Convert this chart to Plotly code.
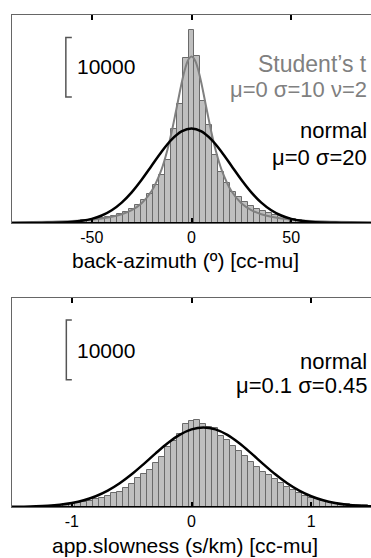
import plotly.graph_objects as go

# ---------------- top panel: back-azimuth (deg) ----------------
baz_centers = [-54, -51, -48, -45, -42, -39, -36, -33, -30, -27, -24, -21, -18, -15, -12, -9, -6, -3,
               0, 3, 6, 9, 12, 15, 18, 21, 24, 27, 30, 33, 36, 39, 42, 45, 48, 51, 54]
baz_counts = [450, 530, 610, 760, 950, 1170, 1500, 1890, 2330, 3000, 3850, 4840, 6340, 8000, 10600, 15800, 20000, 27800,
              32450, 28100, 20500, 16500, 11400, 8600, 6700, 5300, 4300, 3500, 2900, 2400, 2000, 1650, 1350, 1100, 900, 720, 560]
baz_bin_width = 3

# Student's t curve
baz_t_x = [-90, -80, -70, -60, -50, -45, -40, -35, -30, -25, -20, -15, -12, -10, -8, -6, -5, -4, -3, -2, -1,
           0, 1, 2, 3, 4, 5, 6, 8, 10, 12, 15, 20, 25, 30, 35, 40, 45, 50, 60, 70, 80, 90]
baz_t_y = [105, 148, 217, 338, 564, 755, 1037, 1470, 2170, 3340, 5390, 9040, 12410, 15240, 18460, 21840, 23470, 24950, 26210, 27180, 27790,
           28000, 27790, 27180, 26210, 24950, 23470, 21840, 18460, 15240, 12410, 9040, 5390, 3340, 2170, 1470, 1037, 755, 564, 338, 217, 148, 105]

# normal curve
baz_n_x = [-90, -85, -80, -75, -70, -65, -60, -55, -50, -45, -40, -35, -30, -25, -20, -15, -10, -5,
           0, 5, 10, 15, 20, 25, 30, 35, 40, 45, 50, 55, 60, 65, 70, 75, 80, 85, 90]
baz_n_y = [1, 2, 5, 14, 35, 81, 177, 363, 698, 1265, 2150, 3440, 5160, 7280, 9640, 12000, 14030, 15410,
           15900, 15410, 14030, 12000, 9640, 7280, 5160, 3440, 2150, 1265, 698, 363, 177, 81, 35, 14, 5, 2, 1]
baz_ticks = [-50, 0, 50]

# ---------------- bottom panel: apparent slowness (s/km) ----------------
slw_centers = [-1.05, -1.00, -0.95, -0.90, -0.85, -0.80, -0.75, -0.70, -0.65, -0.60, -0.55, -0.50, -0.45, -0.40,
               -0.35, -0.30, -0.25, -0.20, -0.15, -0.10, -0.05, 0.00, 0.05, 0.10, 0.15, 0.20, 0.25, 0.30, 0.35,
               0.40, 0.45, 0.50, 0.55, 0.60, 0.65, 0.70, 0.75, 0.80, 0.85, 0.90, 0.95, 1.00, 1.05, 1.10, 1.15,
               1.20, 1.25, 1.30, 1.35, 1.40, 1.45]
slw_counts = [450, 560, 670, 840, 1010, 1340, 1570, 1850, 2300, 2580, 3140, 3810, 4820, 5490,
              6220, 7340, 8340, 9970, 10980, 12200, 13900, 14450, 14500, 13900, 13380, 13200, 11930, 11260, 10250,
              9400, 8570, 7600, 6660, 5940, 5320, 4760, 3980, 3420, 2860, 2410, 1850, 1570, 1290, 1000, 850,
              700, 580, 480, 400, 330, 280]
slw_bin_width = 0.05

slw_n_x = [-1.5, -1.4, -1.3, -1.2, -1.1, -1.0, -0.9, -0.8, -0.7, -0.6, -0.5, -0.4, -0.3, -0.2, -0.1, 0.0,
           0.1, 0.2, 0.3, 0.4, 0.5, 0.6, 0.7, 0.8, 0.9, 1.0, 1.1, 1.2, 1.3, 1.4, 1.5]
slw_n_y = [24, 51, 105, 205, 381, 672, 1129, 1804, 2745, 3975, 5480, 7190, 8980, 10675, 12077, 13005,
           13330, 13005, 12077, 10675, 8980, 7190, 5480, 3975, 2745, 1804, 1129, 672, 381, 205, 105]
slw_ticks = [-1, 0, 1]

SCALE_BAR = 10000
Y_MAX = 35000

FONT = "Liberation Sans, Arial, Helvetica, sans-serif"
BAR_FILL = "#bfbfbf"
BAR_EDGE = "#6a6a6a"
GREY = "#808080"

fig = go.Figure()

# top panel traces
fig.add_trace(go.Bar(x=baz_centers, y=baz_counts, width=baz_bin_width,
                     marker=dict(color=BAR_FILL, line=dict(color=BAR_EDGE, width=1)),
                     xaxis="x", yaxis="y", showlegend=False))
fig.add_trace(go.Scatter(x=baz_t_x, y=baz_t_y, mode="lines", line=dict(color=GREY, width=2, shape="spline"),
                         xaxis="x", yaxis="y", showlegend=False))
fig.add_trace(go.Scatter(x=baz_n_x, y=baz_n_y, mode="lines", line=dict(color="black", width=2.5, shape="spline"),
                         xaxis="x", yaxis="y", showlegend=False))

# bottom panel traces
fig.add_trace(go.Bar(x=slw_centers, y=slw_counts, width=slw_bin_width,
                     marker=dict(color=BAR_FILL, line=dict(color=BAR_EDGE, width=1)),
                     xaxis="x2", yaxis="y2", showlegend=False))
fig.add_trace(go.Scatter(x=slw_n_x, y=slw_n_y, mode="lines", line=dict(color="black", width=2.5, shape="spline"),
                         xaxis="x2", yaxis="y2", showlegend=False))

xdom = [12 / 371, 1.0]
top_dom = [1 - 223 / 558, 1 - 15 / 558]
bot_dom = [1 - 507 / 558, 1 - 298 / 558]

def xax(rng, ticks, anchor):
    return dict(domain=xdom, anchor=anchor, range=rng, tickvals=ticks, ticktext=[str(t) for t in ticks],
                ticks="inside", ticklen=5, tickwidth=2, tickcolor="black",
                showline=True, linecolor="#666666", linewidth=1, mirror="ticks",
                showgrid=False, zeroline=False, fixedrange=True,
                tickfont=dict(family=FONT, size=16, color="black"))

def yax(dom, anchor):
    return dict(domain=dom, anchor=anchor, range=[0, Y_MAX], showticklabels=False, ticks="",
                showline=True, linecolor="#666666", linewidth=1, mirror=True,
                showgrid=False, zeroline=False, fixedrange=True)

shapes = []
for xr, yr in (("x", "y"), ("x2", "y2")):
    shapes.append(dict(type="line", xref=xr + " domain", yref=yr, x0=0, x1=1, y0=0, y1=0,
                       line=dict(color="black", width=2), layer="above"))

# scale bars (10000 counts)
shapes.append(dict(type="path", xref="x", yref="y",
                   path=f"M -60,{21200 + SCALE_BAR} L -63,{21200 + SCALE_BAR} L -63,21200 L -60,21200",
                   line=dict(color="#555555", width=1.5)))
shapes.append(dict(type="path", xref="x2", yref="y2",
                   path=f"M -1.0,{21300 + SCALE_BAR} L -1.046,{21300 + SCALE_BAR} L -1.046,21300 L -1.0,21300",
                   line=dict(color="#555555", width=1.5)))

def txt(x, y, s, color="black", size=22, xanchor="right"):
    return dict(x=x, y=y, xref="paper", yref="paper", text=s, showarrow=False, xanchor=xanchor, yanchor="middle",
                font=dict(family=FONT, size=size, color=color))

R = 369 / 371
annotations = [
    txt(75 / 371, 1 - 67 / 558, str(SCALE_BAR), size=21, xanchor="left"),
    txt(R, 1 - 64 / 558, "Student\u2019s t", color=GREY, size=23),
    txt(R, 1 - 90 / 558, "\u03bc=0 \u03c3=10 \u03bd=2", color=GREY),
    txt(R, 1 - 131 / 558, "normal"),
    txt(R, 1 - 157 / 558, "\u03bc=0 \u03c3=20"),
    txt(75 / 371, 1 - 350 / 558, str(SCALE_BAR), size=21, xanchor="left"),
    txt(R, 1 - 361 / 558, "normal"),
    txt(R, 1 - 385 / 558, "\u03bc=0.1 \u03c3=0.45"),
    txt(185 / 371, 1 - 260 / 558, "back-azimuth (\u00ba) [cc-mu]", size=21, xanchor="center"),
    txt(185 / 371, 1 - 545 / 558, "app.slowness (s/km) [cc-mu]", size=21, xanchor="center"),
]

fig.update_layout(
    width=371, height=558, margin=dict(l=0, r=0, t=0, b=0),
    paper_bgcolor="white", plot_bgcolor="white",
    bargap=0, barmode="overlay",
    xaxis=xax([-90, 90], baz_ticks, "y"), yaxis=yax(top_dom, "x"),
    xaxis2=xax([-1.5, 1.5], slw_ticks, "y2"), yaxis2=yax(bot_dom, "x2"),
    shapes=shapes, annotations=annotations,
    font=dict(family=FONT),
)

fig.write_html("out.html", config={"displayModeBar": False},
               post_script="document.body.style.margin='0';document.body.style.overflow='hidden';")
